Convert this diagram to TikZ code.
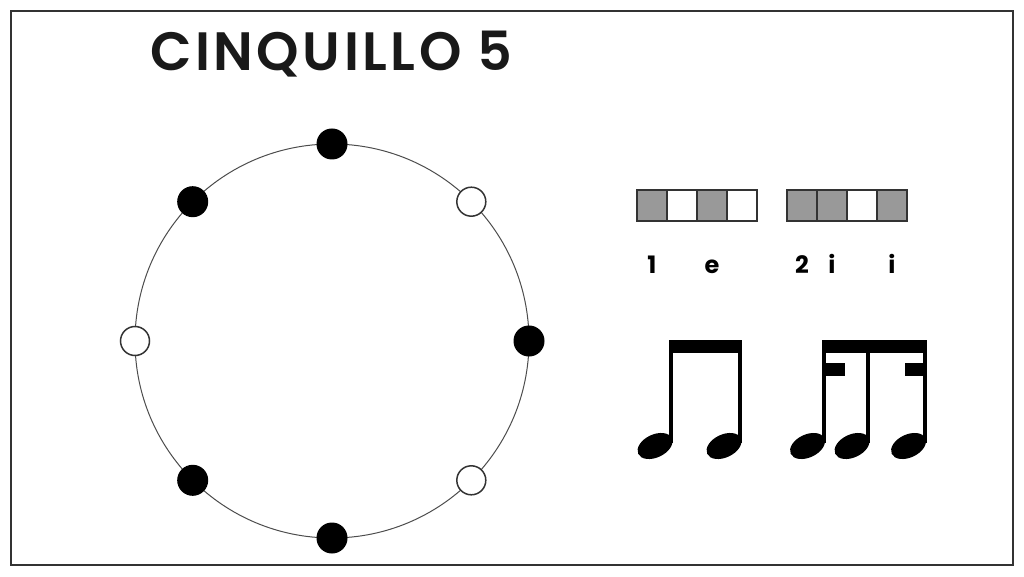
\documentclass[tikz,border=0pt]{standalone}
\usepackage{fontspec}
\setmainfont{Poppins}
\newfontfamily\titlefont{Poppins}[UprightFont={* SemiBold}, LetterSpace=6.5]
\usepackage{tikz}
\tikzset{hit/.style={circle, draw=black, fill=black, line width=1pt, minimum size=30pt, inner sep=0pt}}
\tikzset{rest/.style={circle, draw=black!80, fill=white, line width=1.5pt, minimum size=29pt, inner sep=0pt}}
\tikzset{cell/.style={draw=black!80, line width=1.5pt, minimum width=30pt, minimum height=31pt, inner sep=0pt}}
\tikzset{on/.style={cell, fill=black!40}}
\tikzset{off/.style={cell, fill=white}}
\tikzset{count/.style={font=\fontsize{24}{24}\selectfont\bfseries, anchor=base, inner sep=0pt}}

\begin{document}
\begin{tikzpicture}[x=1pt,y=1pt]
    \useasboundingbox (0,0) rectangle (1024,576);
    \draw[black!80, line width=1.5pt] (11,11) rectangle (1013,565);
    \node[anchor=base west, inner sep=0pt, text=black!90, font=\fontsize{54}{54}\titlefont] (title) at (150,505) {CINQUILLO 5};

    % clock
    \coordinate (ctr) at (332,235);
    \draw[black!70, line width=1pt] (ctr) circle (197);
    \foreach \a/\s [count=\i] in {90/hit,45/rest,0/hit,-45/rest,-90/hit,-135/hit,180/rest,135/hit}
      \path (ctr) ++(\a:197) node[\s] (dot\i) {};

    % boxes
    \node[on]  (b1) at (652,370.5) {};
    \node[off] (b2) at (682,370.5) {};
    \node[on]  (b3) at (712,370.5) {};
    \node[off] (b4) at (742,370.5) {};
    \node[on]  (b5) at (802,370.5) {};
    \node[on]  (b6) at (832,370.5) {};
    \node[off] (b7) at (862,370.5) {};
    \node[on]  (b8) at (892,370.5) {};

    \node[count] (c1) at (652,302) {1};
    \node[count] (c3) at (712,302) {e};
    \node[count] (c5) at (802,302) {2};
    \node[count] (c6) at (832,302) {i};
    \node[count] (c8) at (892,302) {i};

    % notes
    \fill (669,133) rectangle (673,236);
    \fill (738,133) rectangle (742,236);
    \fill (669,223) rectangle (742,236);
    \fill[rotate around={25:(655,130)}] (655,130) ellipse [x radius=18.5, y radius=11.5];
    \fill[rotate around={25:(724,130)}] (724,130) ellipse [x radius=18.5, y radius=11.5];

    \fill (822,133) rectangle (826,236);
    \fill (866,133) rectangle (870,236);
    \fill (923,133) rectangle (927,236);
    \fill (822,223) rectangle (927,236);
    \fill (822,200) rectangle (845,213);
    \fill (905,200) rectangle (927,213);
    \fill[rotate around={25:(807.5,130)}] (807.5,130) ellipse [x radius=18.5, y radius=11.5];
    \fill[rotate around={25:(852,130)}] (852,130) ellipse [x radius=18.5, y radius=11.5];
    \fill[rotate around={25:(908.5,130)}] (908.5,130) ellipse [x radius=18.5, y radius=11.5];
\end{tikzpicture}
\end{document}
